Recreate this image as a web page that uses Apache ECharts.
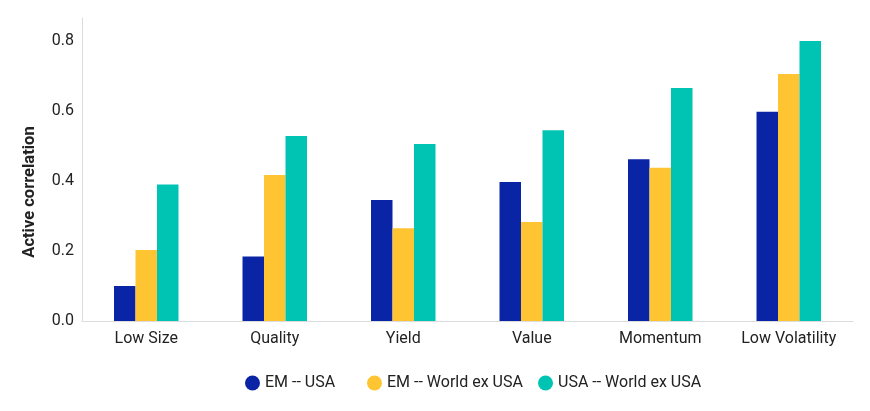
<!DOCTYPE html>
<html>
<head>
<meta charset="utf-8">
<script src="https://cdn.jsdelivr.net/npm/echarts@6/dist/echarts.min.js"></script>
<style>html,body{margin:0;padding:0;background:#fff}#c{width:870px;height:411px}</style>
</head>
<body>
<div id="c"></div>
<script>
const categories = ['Low Size', 'Quality', 'Yield', 'Value', 'Momentum', 'Low Volatility'];
const emUsa = [0.10, 0.184, 0.346, 0.397, 0.462, 0.598];
const emWorld = [0.203, 0.417, 0.265, 0.283, 0.438, 0.706];
const usaWorld = [0.39, 0.529, 0.506, 0.545, 0.666, 0.80];
const seriesNames = ['EM -- USA', 'EM -- World ex USA', 'USA -- World ex USA'];
const colors = ['#0a24a6', '#ffc431', '#00c4b3'];
const yTicks = [0, 0.2, 0.4, 0.6, 0.8];
const yAxisTitle = 'Active correlation';

const chart = echarts.init(document.getElementById('c'));
const font = 'Roboto, "Noto Sans", sans-serif';
const legendLefts = [240, 362, 533];
chart.setOption({
  animation: false,
  textStyle: { fontFamily: font },
  grid: { left: 82, right: 17, top: 18, bottom: 90 },
  graphic: [{
    type: 'text', x: 30, y: 192, rotation: Math.PI / 2,
    style: {
      text: yAxisTitle, fontSize: 16.5, fontWeight: 'bold', fill: '#222',
      fontFamily: font, align: 'center', verticalAlign: 'middle'
    }
  }],
  legend: seriesNames.map((n, i) => ({
    data: [n], left: legendLefts[i], top: 370, icon: 'circle',
    itemWidth: 15, itemHeight: 15, itemGap: 5,
    textStyle: { fontSize: 16, color: '#222', fontFamily: font }
  })),
  xAxis: {
    type: 'category', data: categories,
    axisLine: { lineStyle: { color: '#dcdcdc', width: 1 } },
    axisTick: { show: false },
    axisLabel: { fontSize: 16, color: '#222', margin: 10 }
  },
  yAxis: {
    type: 'value', min: 0, max: 0.866, interval: 0.2,
    axisLine: { show: true, lineStyle: { color: '#dcdcdc', width: 1 } },
    axisTick: { show: false },
    splitLine: { show: false },
    axisLabel: {
      fontSize: 16, color: '#222', margin: 8, showMaxLabel: false,
      formatter: v => (yTicks.some(t => Math.abs(t - v) < 1e-6) ? v.toFixed(1) : '')
    }
  },
  series: [emUsa, emWorld, usaWorld].map((d, i) => ({
    name: seriesNames[i], type: 'bar', data: d, barWidth: 21.5, barGap: '0%',
    itemStyle: { color: colors[i] }
  }))
});
</script>
</body>
</html>
